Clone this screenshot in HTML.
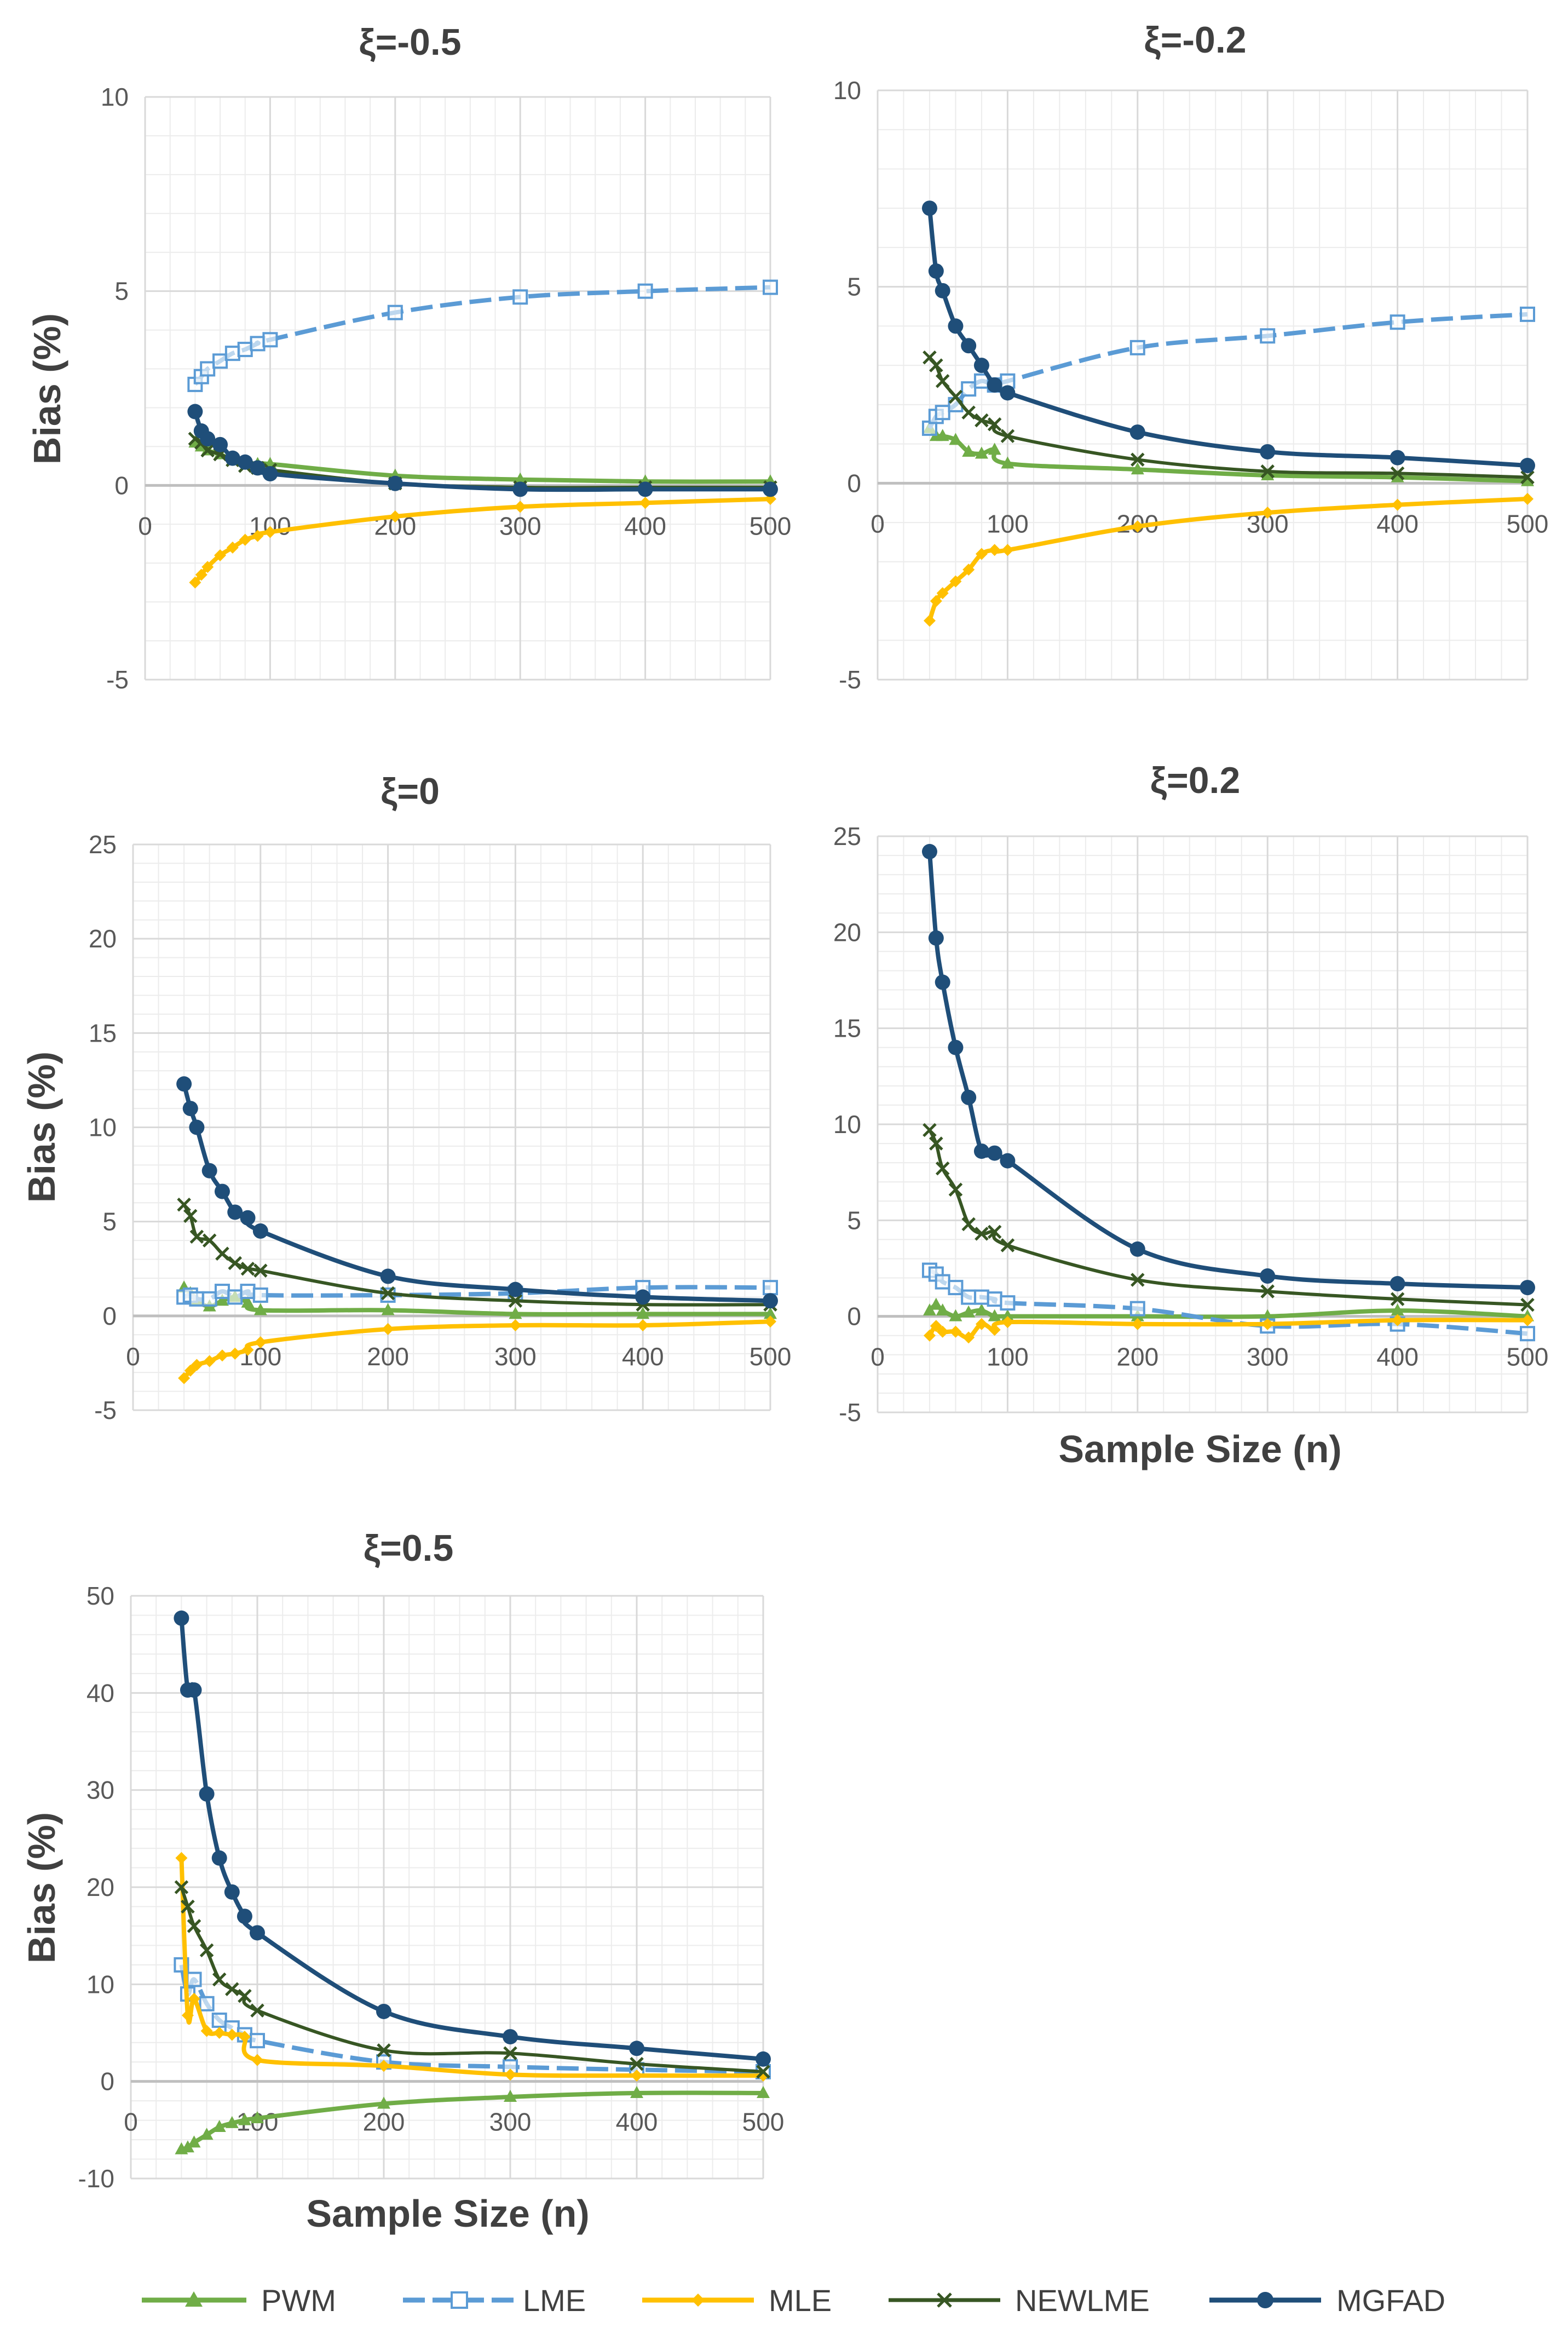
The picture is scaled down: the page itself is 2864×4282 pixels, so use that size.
<!DOCTYPE html>
<html><head><meta charset="utf-8"><style>
html,body{margin:0;padding:0;background:#fff}
svg{display:block}
text{font-family:"Liberation Sans",sans-serif}
</style></head><body>
<svg id="chart" width="2864" height="4282" viewBox="0 0 2864 4282" xmlns="http://www.w3.org/2000/svg">
<g font-size="56" fill="#404040">
  <g>
    <line x1="259" y1="4200" x2="450" y2="4200" stroke="#70ad47" stroke-width="9"/>
    <polygon points="354,4184 370,4212 338,4212" fill="#70ad47"/>
    <text x="477" y="4220">PWM</text></g>
  <g>
    <line x1="736" y1="4200" x2="941" y2="4200" stroke="#5b9bd5" stroke-width="9" stroke-dasharray="40,14"/>
    <rect x="825" y="4186" width="28" height="28" fill="#fff" stroke="#5b9bd5" stroke-width="4"/>
    <text x="955" y="4220">LME</text></g>
  <g>
    <line x1="1173" y1="4200" x2="1377" y2="4200" stroke="#ffc000" stroke-width="9"/>
    <polygon points="1275,4188 1287,4200 1275,4212 1263,4200" fill="#ffc000"/>
    <text x="1404" y="4220">MLE</text></g>
  <g>
    <line x1="1623" y1="4200" x2="1827" y2="4200" stroke="#375623" stroke-width="7"/>
    <path d="M1713,4188 L1737,4212 M1737,4188 L1713,4212" stroke="#375623" stroke-width="5"/>
    <text x="1854" y="4220">NEWLME</text></g>
  <g>
    <line x1="2209" y1="4200" x2="2413" y2="4200" stroke="#1f4e79" stroke-width="9"/>
    <circle cx="2311" cy="4200" r="15" fill="#1f4e79"/>
    <text x="2441" y="4220">MGFAD</text></g>
</g>
</svg>
<script>
const sampleSizes=[40,45,50,60,70,80,90,100,200,300,400,500];
const xTicks=[0,100,200,300,400,500];
// panel 1: xi=-0.5
const p1Pwm=[1.1,1.0,0.9,0.8,0.65,0.6,0.55,0.55,0.25,0.15,0.1,0.1];
const p1Lme=[2.6,2.8,3.0,3.2,3.4,3.5,3.65,3.75,4.45,4.85,5.0,5.1];
const p1Mle=[-2.5,-2.3,-2.1,-1.8,-1.6,-1.4,-1.3,-1.2,-0.8,-0.55,-0.45,-0.35];
const p1Newlme=[1.2,1.1,0.9,0.8,0.65,0.5,0.45,0.4,0.05,-0.05,-0.05,-0.05];
const p1Mgfad=[1.9,1.4,1.2,1.05,0.7,0.6,0.45,0.3,0.05,-0.1,-0.1,-0.1];
const p1YTicks=[-5,0,5,10];
// panel 2: xi=-0.2
const p2Pwm=[1.4,1.2,1.2,1.1,0.8,0.75,0.85,0.5,0.35,0.2,0.15,0.05];
const p2Lme=[1.4,1.7,1.8,2.0,2.4,2.6,2.5,2.6,3.45,3.75,4.1,4.3];
const p2Mle=[-3.5,-3.0,-2.8,-2.5,-2.2,-1.8,-1.7,-1.7,-1.1,-0.75,-0.55,-0.4];
const p2Newlme=[3.2,3.0,2.6,2.2,1.8,1.6,1.5,1.2,0.6,0.3,0.25,0.15];
const p2Mgfad=[7.0,5.4,4.9,4.0,3.5,3.0,2.5,2.3,1.3,0.8,0.65,0.45];
const p2YTicks=[-5,0,5,10];
// panel 3: xi=0
const p3Pwm=[1.5,1.2,0.8,0.5,0.8,1.0,0.7,0.3,0.3,0.1,0.1,0.1];
const p3Lme=[1.0,1.1,0.9,0.9,1.3,1.0,1.3,1.1,1.1,1.2,1.5,1.5];
const p3Mle=[-3.3,-2.9,-2.6,-2.4,-2.1,-2.0,-1.8,-1.4,-0.7,-0.5,-0.5,-0.3];
const p3Newlme=[5.9,5.3,4.2,4.0,3.3,2.8,2.5,2.4,1.2,0.8,0.6,0.6];
const p3Mgfad=[12.3,11.0,10.0,7.7,6.6,5.5,5.2,4.5,2.1,1.4,1.0,0.8];
const p3YTicks=[-5,0,5,10,15,20,25];
// panel 4: xi=0.2
const p4Pwm=[0.3,0.6,0.3,0.0,0.2,0.3,0.0,0.0,0.0,0.0,0.3,0.0];
const p4Lme=[2.4,2.2,1.8,1.5,1.0,1.0,0.9,0.7,0.4,-0.5,-0.4,-0.9];
const p4Mle=[-1.0,-0.5,-0.8,-0.8,-1.1,-0.4,-0.7,-0.3,-0.4,-0.4,-0.2,-0.2];
const p4Newlme=[9.7,9.0,7.7,6.6,4.8,4.3,4.4,3.7,1.9,1.3,0.9,0.6];
const p4Mgfad=[24.2,19.7,17.4,14.0,11.4,8.6,8.5,8.1,3.5,2.1,1.7,1.5];
const p4YTicks=[-5,0,5,10,15,20,25];
// panel 5: xi=0.5
const p5Pwm=[-7,-6.8,-6.3,-5.5,-4.7,-4.3,-4.0,-3.8,-2.3,-1.6,-1.2,-1.2];
const p5Lme=[12,9,10.5,8,6.3,5.5,4.8,4.2,2.0,1.5,1.2,1.0];
const p5Mle=[23,6.8,8.5,5.2,5.0,4.8,4.6,2.2,1.6,0.7,0.6,0.6];
const p5Newlme=[20,18,16,13.5,10.5,9.5,8.8,7.3,3.2,2.9,1.8,1.0];
const p5Mgfad=[47.7,40.3,40.3,29.6,23,19.5,17,15.3,7.2,4.6,3.4,2.3];
const p5YTicks=[-10,0,10,20,30,40,50];

const NS='http://www.w3.org/2000/svg';
const svg=document.getElementById('chart');
function mk(tag,attrs,parent){const e=document.createElementNS(NS,tag);for(const k in attrs)e.setAttribute(k,attrs[k]);parent.appendChild(e);return e;}
function smooth(pts){
  let d='M'+pts[0][0]+','+pts[0][1];
  for(let i=0;i<pts.length-1;i++){
    const p0=pts[Math.max(0,i-1)],p1=pts[i],p2=pts[i+1],p3=pts[Math.min(pts.length-1,i+2)];
    const t=1/6;
    d+=' C'+(p1[0]+(p2[0]-p0[0])*t)+','+(p1[1]+(p2[1]-p0[1])*t)+' '+(p2[0]-(p3[0]-p1[0])*t)+','+(p2[1]-(p3[1]-p1[1])*t)+' '+p2[0]+','+p2[1];
  }
  return d;
}
function panel(cfg){
  const g=mk('g',{},svg);
  
  
  const ymin=cfg.yTicks[0],ymax=cfg.yTicks[cfg.yTicks.length-1];
  const X=n=>cfg.x0+(n-0)*(cfg.x1-cfg.x0)/500;
  const Y=v=>cfg.yB+(v-ymin)*(cfg.yT-cfg.yB)/(ymax-ymin);
  // minor grid
  for(let n=20;n<500;n+=20){if(n%100)mk('line',{x1:X(n),x2:X(n),y1:cfg.yT,y2:cfg.yB,stroke:'#ececec','stroke-width':2},g);}
  for(let v=ymin;v<=ymax;v+=cfg.minor){mk('line',{x1:X(0),x2:X(500),y1:Y(v),y2:Y(v),stroke:'#ececec','stroke-width':2},g);}
  xTicks.forEach(n=>{const l=mk('line',{x1:X(n),x2:X(n),y1:cfg.yT,y2:cfg.yB,stroke:'#d9d9d9','stroke-width':3},g);
    
    });
  cfg.yTicks.forEach(v=>{const l=mk('line',{x1:X(0),x2:X(500),y1:Y(v),y2:Y(v),stroke:v===0?'#bfbfbf':'#d9d9d9','stroke-width':v===0?5:3},g);
    
    
    const t=mk('text',{x:X(0)-30,y:Y(v)+16,'text-anchor':'end','font-size':46,fill:'#595959'},g);t.textContent=v;
    
    });
  xTicks.forEach(n=>{const t=mk('text',{x:X(n),y:Y(0)+90,'text-anchor':'middle','font-size':46,fill:'#595959'},g);t.textContent=n;
    
    });
  const title=mk('text',{x:cfg.tx,y:cfg.ty,'text-anchor':'middle','font-size':68,'font-weight':'bold',fill:'#404040'},g);
  title.textContent=cfg.title;
  
  
  if(cfg.yLabel){const t=mk('text',{x:0,y:0,transform:'translate('+cfg.yLabel[0]+','+cfg.yLabel[1]+') rotate(-90)','text-anchor':'middle','font-size':70,'font-weight':'bold',fill:'#404040'},g);
    t.textContent='Bias (%)';
    
    }
  if(cfg.xLabel){const t=mk('text',{x:cfg.xLabel[0],y:cfg.xLabel[1],'text-anchor':'middle','font-size':70,'font-weight':'bold',fill:'#404040'},g);
    t.textContent='Sample Size (n)';
    
    }
  const series=[
    {vals:cfg.pwm,col:'#70ad47',m:'tri',nm:'pwm'},
    {vals:cfg.lme,col:'#5b9bd5',m:'sq',nm:'lme',dash:'40,14'},
    {vals:cfg.mle,col:'#ffc000',m:'dia',nm:'mle'},
    {vals:cfg.newlme,col:'#375623',m:'x',nm:'newlme'},
    {vals:cfg.mgfad,col:'#1f4e79',m:'dot',nm:'mgfad'}];
  series.forEach(s=>{
    const sg=mk('g',{},g);
    
    
    const pts=sampleSizes.map((n,i)=>[X(n),Y(s.vals[i])]);
    const p=mk('path',{d:smooth(pts),fill:'none',stroke:s.col,'stroke-width':s.m==='x'?6:8,'stroke-linejoin':'round'},sg);
    if(s.dash)p.setAttribute('stroke-dasharray',s.dash);
    
    
    pts.forEach(([x,y])=>{let e;
      if(s.m==='tri')e=mk('polygon',{points:(x)+','+(y-13)+' '+(x+12)+','+(y+9)+' '+(x-12)+','+(y+9),fill:s.col},sg);
      else if(s.m==='sq')e=mk('rect',{x:x-12,y:y-12,width:24,height:24,fill:'#fff','fill-opacity':0.6,stroke:s.col,'stroke-width':4},sg);
      else if(s.m==='dia')e=mk('polygon',{points:x+','+(y-11)+' '+(x+11)+','+y+' '+x+','+(y+11)+' '+(x-11)+','+y,fill:s.col},sg);
      else if(s.m==='x')e=mk('path',{d:'M'+(x-11)+','+(y-11)+'L'+(x+11)+','+(y+11)+'M'+(x+11)+','+(y-11)+'L'+(x-11)+','+(y+11),stroke:s.col,'stroke-width':5},sg);
      else e=mk('circle',{cx:x,cy:y,r:14,fill:s.col},sg);
      
      });
  });
}
panel({name:'panel-xi-neg-0-5',title:'ξ=-0.5',tx:749,ty:100,x0:265,x1:1407,yT:177,yB:1241,minor:1,yTicks:p1YTicks,yLabel:[110,710],
  pwm:p1Pwm,lme:p1Lme,mle:p1Mle,newlme:p1Newlme,mgfad:p1Mgfad});
panel({name:'panel-xi-neg-0-2',title:'ξ=-0.2',tx:2183,ty:96,x0:1603,x1:2790,yT:165,yB:1241,minor:1,yTicks:p2YTicks,
  pwm:p2Pwm,lme:p2Lme,mle:p2Mle,newlme:p2Newlme,mgfad:p2Mgfad});
panel({name:'panel-xi-0',title:'ξ=0',tx:749,ty:1468,x0:243,x1:1407,yT:1542,yB:2575,minor:1,yTicks:p3YTicks,yLabel:[100,2058],
  pwm:p3Pwm,lme:p3Lme,mle:p3Mle,newlme:p3Newlme,mgfad:p3Mgfad});
panel({name:'panel-xi-0-2',title:'ξ=0.2',tx:2183,ty:1448,x0:1603,x1:2790,yT:1527,yB:2579,minor:1,yTicks:p4YTicks,xLabel:[2192,2670],
  pwm:p4Pwm,lme:p4Lme,mle:p4Mle,newlme:p4Newlme,mgfad:p4Mgfad});
panel({name:'panel-xi-0-5',title:'ξ=0.5',tx:746,ty:2850,x0:239,x1:1394,yT:2914,yB:3978,minor:2,yTicks:p5YTicks,yLabel:[100,3447],xLabel:[818,4066],
  pwm:p5Pwm,lme:p5Lme,mle:p5Mle,newlme:p5Newlme,mgfad:p5Mgfad});
</script>
</body></html>
